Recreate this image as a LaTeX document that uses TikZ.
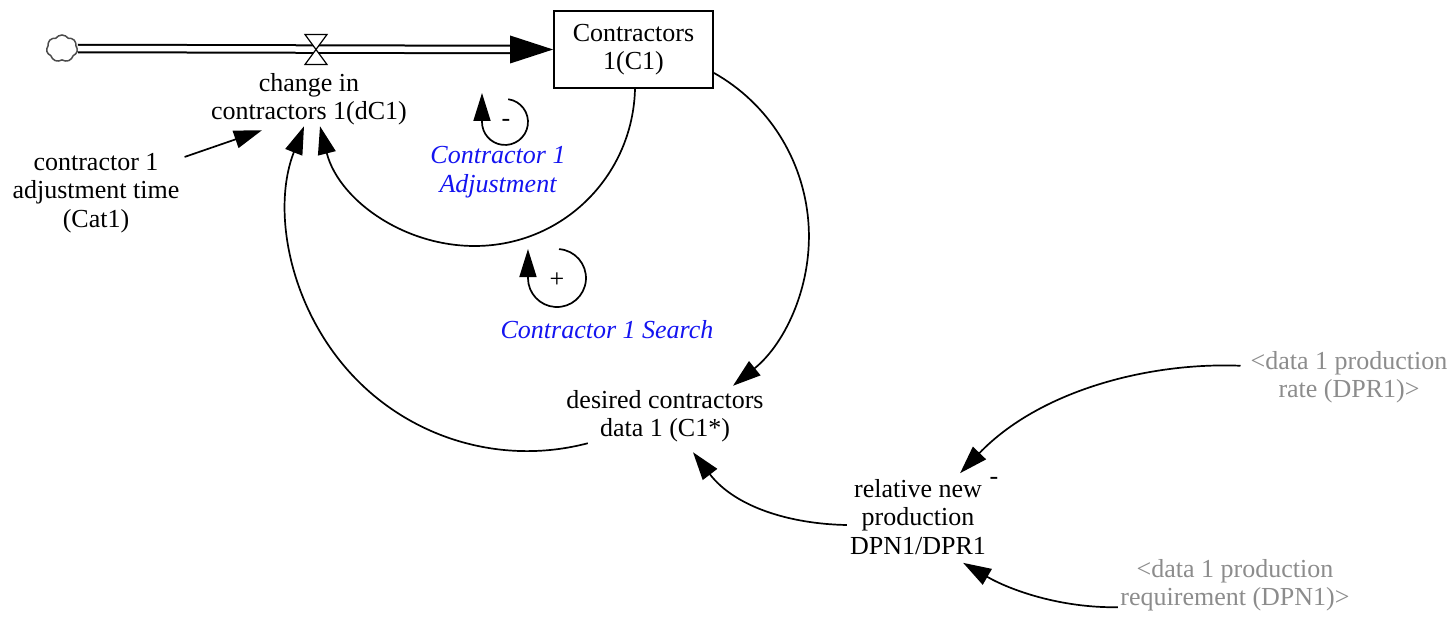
\documentclass[tikz,border=0pt]{standalone}
\usepackage{fontspec}
\setmainfont{Liberation Serif}
\usetikzlibrary{arrows.meta,shapes.symbols,calc}
\definecolor{loopblue}{RGB}{20,20,240}
\definecolor{shadowgray}{RGB}{140,140,140}
\begin{document}
\begin{tikzpicture}[x=1pt,y=-1pt,
  every node/.style={inner sep=0pt, align=center, font=\fontsize{26}{28.5}\selectfont},
  link/.style={line width=1.7pt, -{Triangle[length=28pt,width=18pt]}},
  loopmark/.style={line width=1.7pt, -{Triangle[length=28pt,width=17pt]}},
  loopname/.style={text=loopblue, font=\fontsize{26}{29}\selectfont\itshape},
  ghost/.style={text=shadowgray},
  stock/.style={draw, line width=1.8pt, minimum width=159pt, minimum height=77pt},
  valvepart/.style={draw, fill=white, line width=1.2pt},
]
\useasboundingbox (0,0) rectangle (1454,618);

% stock, source cloud and flow variables
\node[stock] (C1) at (633.5,49.5) {Contractors\\1(C1)};
\node[cloud, cloud puffs=7, cloud puff arc=110, aspect=1.1, draw=black!70, line width=1.5pt,
      minimum width=31pt, minimum height=27pt] (src) at (62,48.5) {};
\coordinate (valve) at (316,49.5);
\node (dC1) at (309,99) {change in\\contractors 1(dC1)};
\node (Cat1) at (96,193) {contractor 1\\adjustment time\\(Cat1)};
\node (C1d) at (665,416) {desired contractors\\data 1 (C1*)};
\node (rel) at (918,517) {relative new\\production\\DPN1/DPR1};
\node[ghost] (DPR1) at (1349,377) {<data 1 production\\rate (DPR1)>};
\node[ghost] (DPN1) at (1235,585) {<data 1 production\\requirement (DPN1)>};

% loop names and polarity signs
\node[loopname] (adjname) at (498,172) {Contractor 1\\Adjustment};
\node[loopname] (srchname) at (607,330) {Contractor 1 Search};
\node (adjsign) at (506,123) {-};
\node (srchsign) at (557,280) {+};
\node (relsign) at (994,481) {-};

% flow pipe with valve
\draw[line width=2pt, double=white, double distance=5.5pt]
  (src.east) -- ($(C1.west)+(-40,0)$);
\fill (C1.west) -- ++(-43,-14) -- ++(0,28) -- cycle;
\draw[valvepart] ($(valve)+(-11,-15)$) -- ($(valve)+(11,-15)$) -- (valve) -- cycle;
\draw[valvepart] ($(valve)+(-11,15)$) -- ($(valve)+(11,15)$) -- (valve) -- cycle;

% causal links
\draw[link] ($(Cat1.north east)+(5,4)$) -- ($(dC1.south)+(-47,5)$);
\draw[link] ($(C1.south)+(1.5,0)$)
  .. controls (633.0,169.9) and (572.2,236.2) .. (492.7,245.0)
  .. controls (413.2,253.8) and (339.3,202.6) .. ($(dC1.south)+(11,1)$);
\draw[link] ($(C1.south east)+(0,-16)$)
  .. controls (768.2,103.5) and (803.1,158.9) .. (808.3,221.0)
  .. controls (813.5,283.1) and (786,343) .. ($(C1d.north)+(68,-4)$);
\draw[link] ($(C1d.south west)+(21.5,1)$)
  .. controls (501.1,466.1) and (408.6,438.3) .. (348.7,371.2)
  .. controls (288.8,304.1) and (271.6,209.0) .. ($(dC1.south)+(-5,1)$);
\draw[link] ($(rel.west)+(-3,8)$)
  .. controls (790,524) and (735,507) .. ($(C1d.south)+(28,10)$);
\draw[link] ($(DPR1.north west)+(-10,15)$)
  .. controls (1150,362) and (1040,390) .. ($(rel.north east)+(-26,-6)$);
\draw[link] ($(DPN1.south west)+(-2.5,-4)$)
  .. controls (1060,608) and (1010,590) .. ($(rel.south east)+(-23,8)$);

% loop markers
\draw[loopmark] ($(adjsign)+(2.2,-23.8)$) arc[start angle=-82, end angle=180, radius=23] -- ++(0,-29);
\draw[loopmark] ($(srchsign)+(2,-30.9)$) arc[start angle=-86, end angle=180, radius=29] -- ++(0,-29);
\end{tikzpicture}
\end{document}
